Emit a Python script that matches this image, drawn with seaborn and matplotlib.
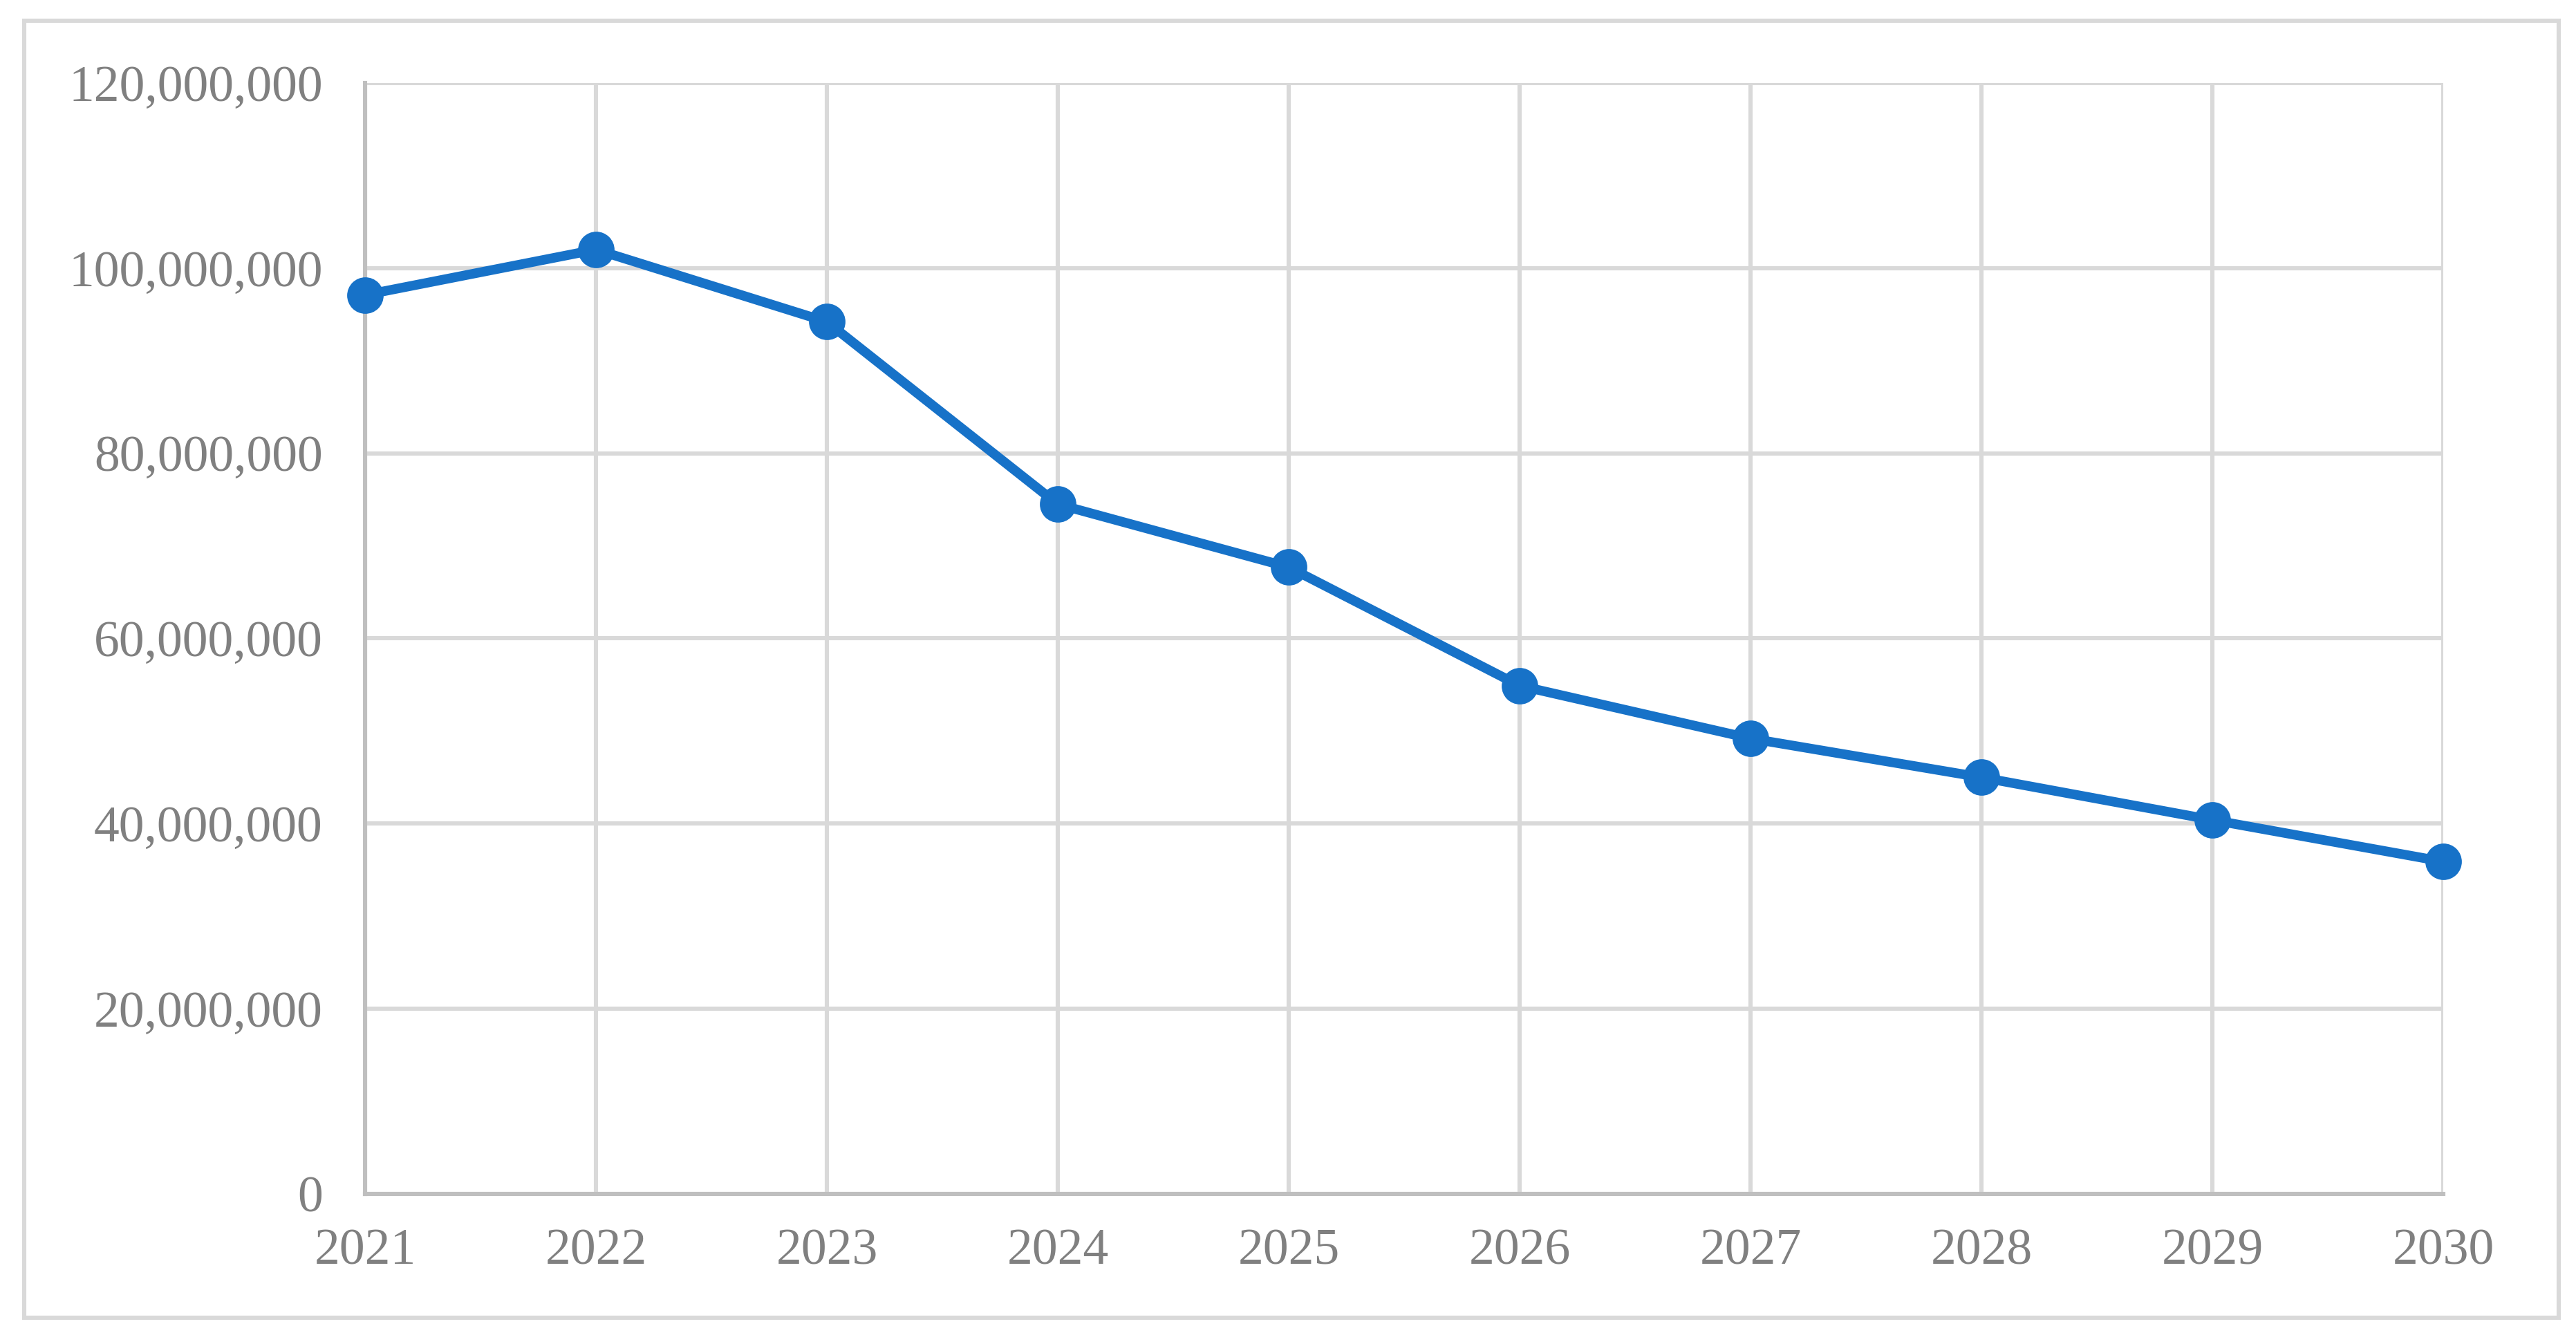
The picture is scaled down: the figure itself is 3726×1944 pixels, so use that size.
import pandas as pd
import matplotlib.pyplot as plt
import seaborn as sns
from matplotlib.patches import Rectangle
from matplotlib.ticker import FuncFormatter

years = [2021, 2022, 2023, 2024, 2025, 2026, 2027, 2028, 2029, 2030]
values = [97.1e6, 102.0e6, 94.2e6, 74.5e6, 67.7e6, 54.9e6, 49.2e6, 45.0e6, 40.4e6, 35.9e6]
y_ticks = [0, 20e6, 40e6, 60e6, 80e6, 100e6, 120e6]

df = pd.DataFrame({'Year': years, 'Value': values})

sns.set_style('white')
plt.rcParams['font.family'] = ['Liberation Serif', 'DejaVu Serif']

fig = plt.figure(figsize=(18.63, 9.72), dpi=200)
ax = fig.add_axes([0.1417, 0.1116, 0.8068, 0.8267])

sns.lineplot(data=df, x='Year', y='Value', ax=ax, color='#1772C8', linewidth=5,
             marker='o', markersize=19, markeredgewidth=0, clip_on=False, zorder=5)

ax.set_xlim(2021, 2030)
ax.set_ylim(0, 120e6)
ax.set_xticks(years)
ax.set_yticks(y_ticks)
ax.yaxis.set_major_formatter(FuncFormatter(lambda v, p: f'{int(v):,}'))
ax.grid(True, color='#D9D9D9', linewidth=2.2)
ax.set_axisbelow(True)
for side in ['top', 'right']:
    ax.spines[side].set_visible(False)
for side in ['left', 'bottom']:
    ax.spines[side].set_color('#BFBFBF')
    ax.spines[side].set_linewidth(2.2)
ax.tick_params(axis='both', length=0, labelsize=26.5, labelcolor='#808080')
ax.tick_params(axis='y', pad=22)
ax.tick_params(axis='x', pad=18)
ax.set_xlabel('')
ax.set_ylabel('')

fig.patches.append(Rectangle((0.0094, 0.0195), 0.9839, 0.9653, transform=fig.transFigure,
                             fill=False, edgecolor='#D9D9D9', linewidth=2.2))

fig.savefig('out.png', dpi=200)
